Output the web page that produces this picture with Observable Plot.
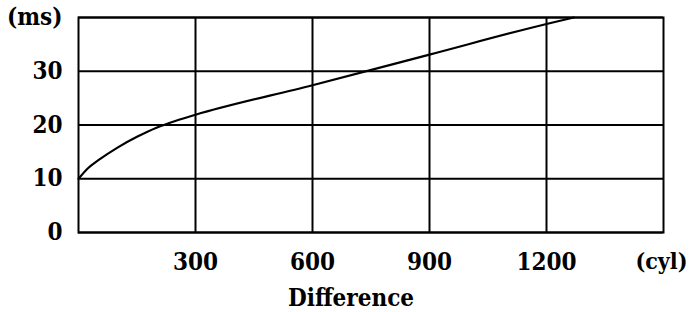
<!DOCTYPE html>
<html><head><meta charset="utf-8">
<script src="https://cdn.jsdelivr.net/npm/d3@7"></script>
<script src="https://cdn.jsdelivr.net/npm/@observablehq/plot@0.6"></script>
<style>html,body{margin:0;padding:0;background:#fff;overflow:hidden} svg{display:block;overflow:visible}
svg text{font-family:'DejaVu Serif Condensed','DejaVu Serif',serif;font-stretch:condensed;font-weight:bold}</style>
</head><body><div id="chart"></div>
<script>
// Seek time (ms) vs. seek distance (cylinders)
const difference = [0, 25, 50, 100, 150, 200, 250, 300, 600, 900, 1200, 1270];
const seekTime   = [10, 12.0, 13.4, 15.8, 17.8, 19.5, 20.8, 21.9, 27.4, 33.1, 38.8, 40];
const xTicks = [300, 600, 900, 1200];
const xTickLabels = ["300", "600", "900", "1200"];
const xUnit = "(cyl)";
const yTicks = [0, 10, 20, 30, 40];
const yTickLabels = ["0", "10", "20", "30", "(ms)"];
const xTitle = "Difference";

const data = difference.map((d, i) => ({d, t: seekTime[i]}));

const chart = Plot.plot({
  width: 694,
  height: 312,
  marginLeft: 78,
  marginRight: 31,
  marginTop: 17,
  marginBottom: 80,
  style: {fontSize: "24px", color: "black", background: "white"},
  x: {domain: [0, 1500]},
  y: {domain: [0, 40]},
  marks: [
    Plot.gridX(xTicks, {stroke: "black", strokeOpacity: 1, strokeWidth: 2}),
    Plot.gridY(yTicks, {stroke: "black", strokeOpacity: 1, strokeWidth: 2}),
    Plot.frame({stroke: "black", strokeWidth: 2}),
    Plot.axisX(xTicks, {
      tickSize: 0, tickPadding: 20,
      tickFormat: d => xTickLabels[xTicks.indexOf(d)],
      label: null, fontSize: 24
    }),
    Plot.text([xUnit], {
      text: d => d,
      frameAnchor: "bottom-right", textAnchor: "end", lineAnchor: "top",
      dx: 24, dy: 20, fontSize: 23, fill: "black"
    }),
    Plot.text([xTitle], {
      frameAnchor: "bottom", dx: -20, dy: 66, lineAnchor: "middle",
      fontSize: 24, fill: "black"
    }),
    Plot.axisY(yTicks, {
      tickSize: 0, tickPadding: 16,
      tickFormat: d => yTickLabels[yTicks.indexOf(d)],
      label: null, fontSize: 24
    }),
    Plot.line(data, {x: "d", y: "t", stroke: "black", strokeWidth: 2.2, curve: "monotone-x"})
  ]
});
document.getElementById("chart").append(chart);
</script>
</body></html>
